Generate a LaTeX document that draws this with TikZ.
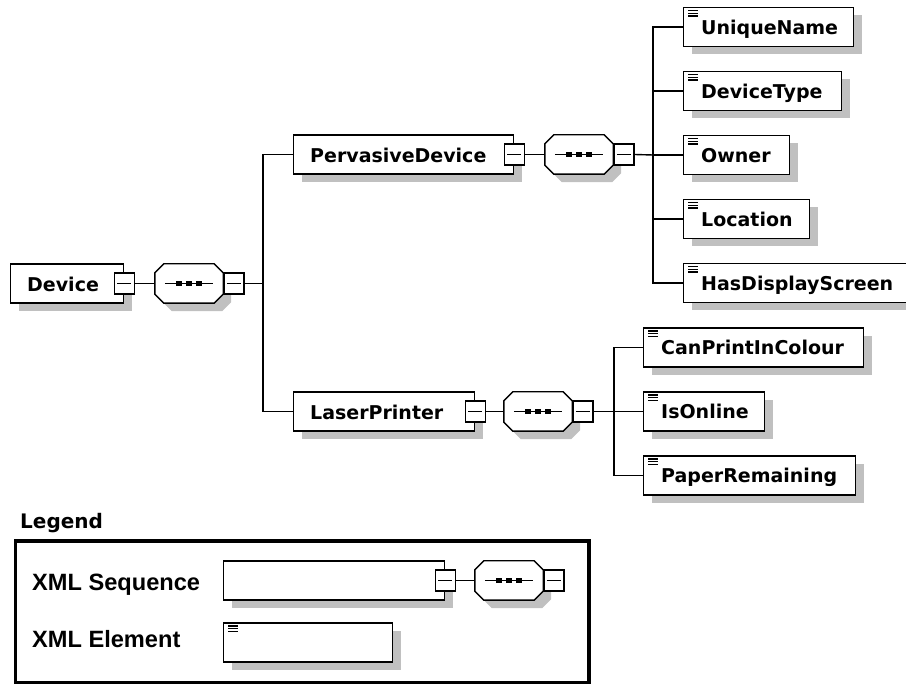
\documentclass[tikz,border=0pt]{standalone}
\usepackage{fontspec}
\setmainfont{DejaVu Sans}
\newfontfamily\legendsans{Liberation Sans}
\usetikzlibrary{shadows}
\definecolor{shadowgray}{RGB}{192,192,192}

% outline of the sequence compositor (rectangle with cut corners)
\newcommand\octpath[1]{([xshift=9pt]#1.north west) -- ([xshift=-9pt]#1.north east)
  -- ([yshift=-9pt]#1.north east) -- ([yshift=9pt]#1.south east)
  -- ([xshift=-9pt]#1.south east) -- ([xshift=9pt]#1.south west)
  -- ([yshift=9pt]#1.south west) -- ([yshift=-9pt]#1.north west) -- cycle}

\tikzset{
  treeline/.style={line width=1.4pt, black},
  boxshadow/.style={drop shadow={shadow xshift=8pt, shadow yshift=-8pt,
      fill=shadowgray, opacity=1, draw=none}},
  seqbox/.style={rectangle, draw, line width=1.4pt, fill=white,
      minimum height=39pt, inner sep=0pt, anchor=west, boxshadow},
  elbox/.style={seqbox, path picture={
      \foreach \d in {3,5.8,8.6}{
        \draw[line width=1.3pt] ([xshift=4.5pt,yshift=-\d pt]path picture bounding box.north west) -- ++(9.5pt,0pt);}}},
  minus/.style={rectangle, draw, line width=1.4pt, fill=white,
      minimum width=20pt, minimum height=21pt, inner sep=0pt,
      path picture={\draw[line width=1.3pt]
        ([xshift=3pt]path picture bounding box.west) -- ([xshift=-3pt]path picture bounding box.east);}},
  octbox/.style={rectangle, minimum width=68pt, minimum height=39pt, inner sep=0pt},
  eltext/.style={anchor=base west, inner sep=0pt, font=\fontsize{19}{22}\selectfont\bfseries},
  legendlabel/.style={anchor=base west, inner sep=0pt, font=\legendsans\fontsize{23.6}{28}\selectfont\bfseries},
  legendtitle/.style={anchor=base west, inner sep=0pt, font=\fontsize{20}{24}\selectfont\bfseries},
  legendframe/.style={rectangle, draw, line width=3.2pt, inner sep=0pt,
      minimum width=573.5pt, minimum height=141.5pt},
}

% sequence compositor: shadow, outline, dotted bar and collapse box
\newcommand\seqoctagon[1]{%
  \fill[shadowgray, transform canvas={xshift=8pt, yshift=-8pt}] \octpath{#1};
  \filldraw[treeline, fill=white] \octpath{#1};
  \draw[treeline] ([xshift=10pt]#1.west) -- ([xshift=-10pt]#1.east);
  \foreach \dx in {-10,0,10}{
    \fill ([xshift=\dx pt]#1.center) +(-2.6pt,-2.6pt) rectangle +(2.6pt,2.6pt);}
  \node[minus, anchor=west] (#1m) at (#1.east) {};
}

\begin{document}
\begin{tikzpicture}[x=1pt, y=-1pt]
\useasboundingbox (0,0) rectangle (906,684);
\clip (0,0) rectangle (906,684);

% ---- root element ----
\node[seqbox, minimum width=113pt] (device) at (10,283.5) {};
\node[minus] (devicem) at (device.east) {};
\node[eltext] (device-label) at ([xshift=17pt,yshift=-8.5pt]device.west) {Device};
\node[octbox] (o1) at (189,283.5) {};
\seqoctagon{o1}

% ---- PervasiveDevice ----
\node[seqbox, minimum width=220pt] (pd) at (293,154.5) {};
\node[minus] (pdm) at (pd.east) {};
\node[eltext] (pd-label) at ([xshift=17pt,yshift=-8.5pt]pd.west) {PervasiveDevice};
\node[octbox] (o2) at (579,154.5) {};
\seqoctagon{o2}

% ---- LaserPrinter ----
\node[seqbox, minimum width=181pt] (lp) at (293,411.5) {};
\node[minus] (lpm) at (lp.east) {};
\node[eltext] (lp-label) at ([xshift=17pt,yshift=-8.5pt]lp.west) {LaserPrinter};
\node[octbox] (o3) at (538,411.5) {};
\seqoctagon{o3}

% ---- leaf elements of PervasiveDevice ----
\node[elbox, minimum width=170pt] (un) at (683,27) {};
\node[elbox, minimum width=158pt] (dt) at (683,91) {};
\node[elbox, minimum width=106pt] (ow) at (683,155) {};
\node[elbox, minimum width=126pt] (lo) at (683,219) {};
\node[elbox, minimum width=233pt] (hd) at (683,283) {};
\node[eltext] (un-label) at ([xshift=18pt,yshift=-7.5pt]un.west) {UniqueName};
\node[eltext] (dt-label) at ([xshift=18pt,yshift=-7.5pt]dt.west) {DeviceType};
\node[eltext] (ow-label) at ([xshift=18pt,yshift=-7.5pt]ow.west) {Owner};
\node[eltext] (lo-label) at ([xshift=18pt,yshift=-7.5pt]lo.west) {Location};
\node[eltext] (hd-label) at ([xshift=18pt,yshift=-7.5pt]hd.west) {HasDisplayScreen};

% ---- leaf elements of LaserPrinter ----
\node[elbox, minimum width=220pt] (cp) at (643,347.5) {};
\node[elbox, minimum width=121pt] (io) at (643,411.5) {};
\node[elbox, minimum width=212pt] (pr) at (643,475.5) {};
\node[eltext] (cp-label) at ([xshift=18pt,yshift=-7.5pt]cp.west) {CanPrintInColour};
\node[eltext] (io-label) at ([xshift=18pt,yshift=-7.5pt]io.west) {IsOnline};
\node[eltext] (pr-label) at ([xshift=18pt,yshift=-7.5pt]pr.west) {PaperRemaining};

% ---- connectors ----
\coordinate (b1) at (263,283.5);
\coordinate (b2) at (653,155);
\coordinate (b3) at (614,411.5);
\draw[treeline] (devicem.east) -- (o1.west);
\draw[treeline] (o1m.east) -- (b1);
\draw[treeline] (pd.west) -| (b1) |- (lp.west);
\draw[treeline] (pdm.east) -- (o2.west);
\draw[treeline] (o2m.east) -- (b2);
\draw[treeline] (un.west) -| (b2);
\draw[treeline] (dt.west) -| (b2);
\draw[treeline] (ow.west) -- (b2);
\draw[treeline] (lo.west) -| (b2);
\draw[treeline] (hd.west) -| (b2);
\draw[treeline] (lpm.east) -- (o3.west);
\draw[treeline] (o3m.east) -- (io.west);
\draw[treeline] (cp.west) -| (b3);
\draw[treeline] (pr.west) -| (b3);

% ---- legend ----
\node[legendtitle] (legend-title) at (20,529) {Legend};
\node[legendframe] (legend) at (302.25,611.75) {};
\node[legendlabel] (seq-label) at (32,591) {XML Sequence};
\node[legendlabel] (el-label) at (32,648) {XML Element};
\node[seqbox, minimum width=221pt] (lseq) at (223,580.5) {};
\node[minus] (lseqm) at (lseq.east) {};
\node[octbox] (o4) at (509,580.5) {};
\seqoctagon{o4}
\draw[treeline] (lseqm.east) -- (o4.west);
\node[elbox, minimum width=169pt] (lel) at (223,642.5) {};
\end{tikzpicture}
\end{document}
